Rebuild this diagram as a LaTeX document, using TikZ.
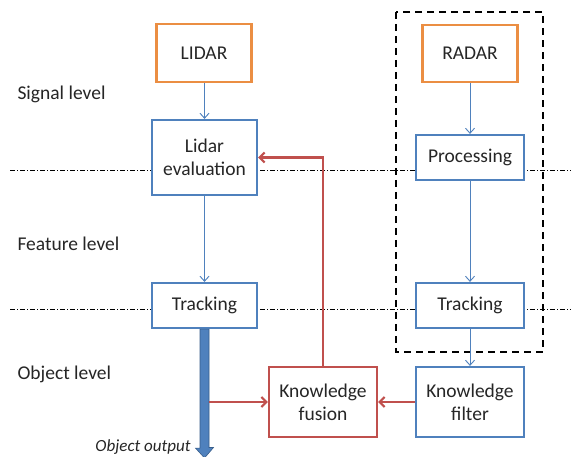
\documentclass[tikz,border=0pt]{standalone}
\usepackage{fontspec}
\setmainfont{Carlito}
\usetikzlibrary{arrows.meta}
\definecolor{obox}{HTML}{F79646}
\definecolor{bbox}{HTML}{4F81BD}
\definecolor{rbox}{HTML}{C0504D}
\definecolor{bdark}{HTML}{385D8A}
\begin{document}
\begin{tikzpicture}[x=1pt,y=-1pt,
  box/.style={draw, line width=2.2pt, fill=white, rectangle, align=center, inner sep=2pt,
    font=\fontsize{19.5}{23}\selectfont, text=black!85},
  obx/.style={box, draw=obox!95!black},
  bbx/.style={box, draw=bbox},
  rbx/.style={box, draw=rbox},
  lvl/.style={anchor=west, font=\fontsize{19.5}{23}\selectfont, text=black!85},
  thin/.style={draw=bbox, line width=0.9pt, -{Straight Barb[length=5pt,width=9pt]}},
  red/.style={draw=rbox, line width=2.2pt},
  redarr/.style={red, -{Straight Barb[length=5pt,width=10pt]}},
  sep/.style={draw=black, line width=0.6pt, dash pattern=on 5pt off 2pt on 1pt off 2pt}]
\path[use as bounding box, fill=white] (0,0) rectangle (571,457);

% level separators
\draw[sep] (10,170) -- (571,170);
\draw[sep] (10,309) -- (571,309);

% dashed radar group
\draw[black, line width=2.2pt, dash pattern=on 7pt off 5pt] (396,12) rectangle (543,352);

% level labels
\node[lvl] (sig) at (14,94) {Signal level};
\node[lvl] (fea) at (14,244) {Feature level};
\node[lvl] (obj) at (14,374) {Object level};

% boxes
\node[obx, minimum width=95pt, minimum height=58pt] (lidar) at (204,53) {LIDAR};
\node[bbx, minimum width=105pt, minimum height=75pt] (eval) at (204.5,157.5) {Lidar\\evaluation};
\node[bbx, minimum width=105pt, minimum height=45pt] (trackL) at (204.5,305.5) {Tracking};
\node[obx, minimum width=95pt, minimum height=57pt] (radar) at (470,53.5) {RADAR};
\node[bbx, minimum width=108pt, minimum height=45pt] (proc) at (470,157.5) {Processing};
\node[bbx, minimum width=108pt, minimum height=45pt] (trackR) at (470,305.5) {Tracking};
\node[bbx, minimum width=108pt, minimum height=70pt] (kfil) at (470,402) {Knowledge\\filter};
\node[rbx, minimum width=108pt, minimum height=70pt] (kfus) at (323,402) {Knowledge\\fusion};

% thin blue connectors
\draw[thin] (lidar.south -| eval.north) -- (eval.north);
\draw[thin] (eval) -- (trackL);
\draw[thin] (radar) -- (proc);
\draw[thin] (proc) -- (trackR);
\draw[thin] (trackR) -- (kfil);

% thick object output arrow
\fill[bbox, draw=bdark, line width=0.6pt]
  ([xshift=-4.5pt]trackL.south) -- ++(0,119) -- ++(-4.5,0) -- (204.5,458)
  -- (213.5,447.5) -- ++(-4.5,0) -- ([xshift=4.5pt]trackL.south) -- cycle;
\coordinate (tap) at (209,402);
\node[anchor=base east, font=\fontsize{17}{20}\selectfont\itshape, text=black!85] (out) at (194,451) {Object output};

% red connectors
\draw[redarr] (tap) -- (kfus.west);
\draw[redarr] (kfil.west) -- (kfus.east);
\draw[redarr] (kfus.north) -- (kfus.north |- eval.east) -- (eval.east);
\end{tikzpicture}
\end{document}
